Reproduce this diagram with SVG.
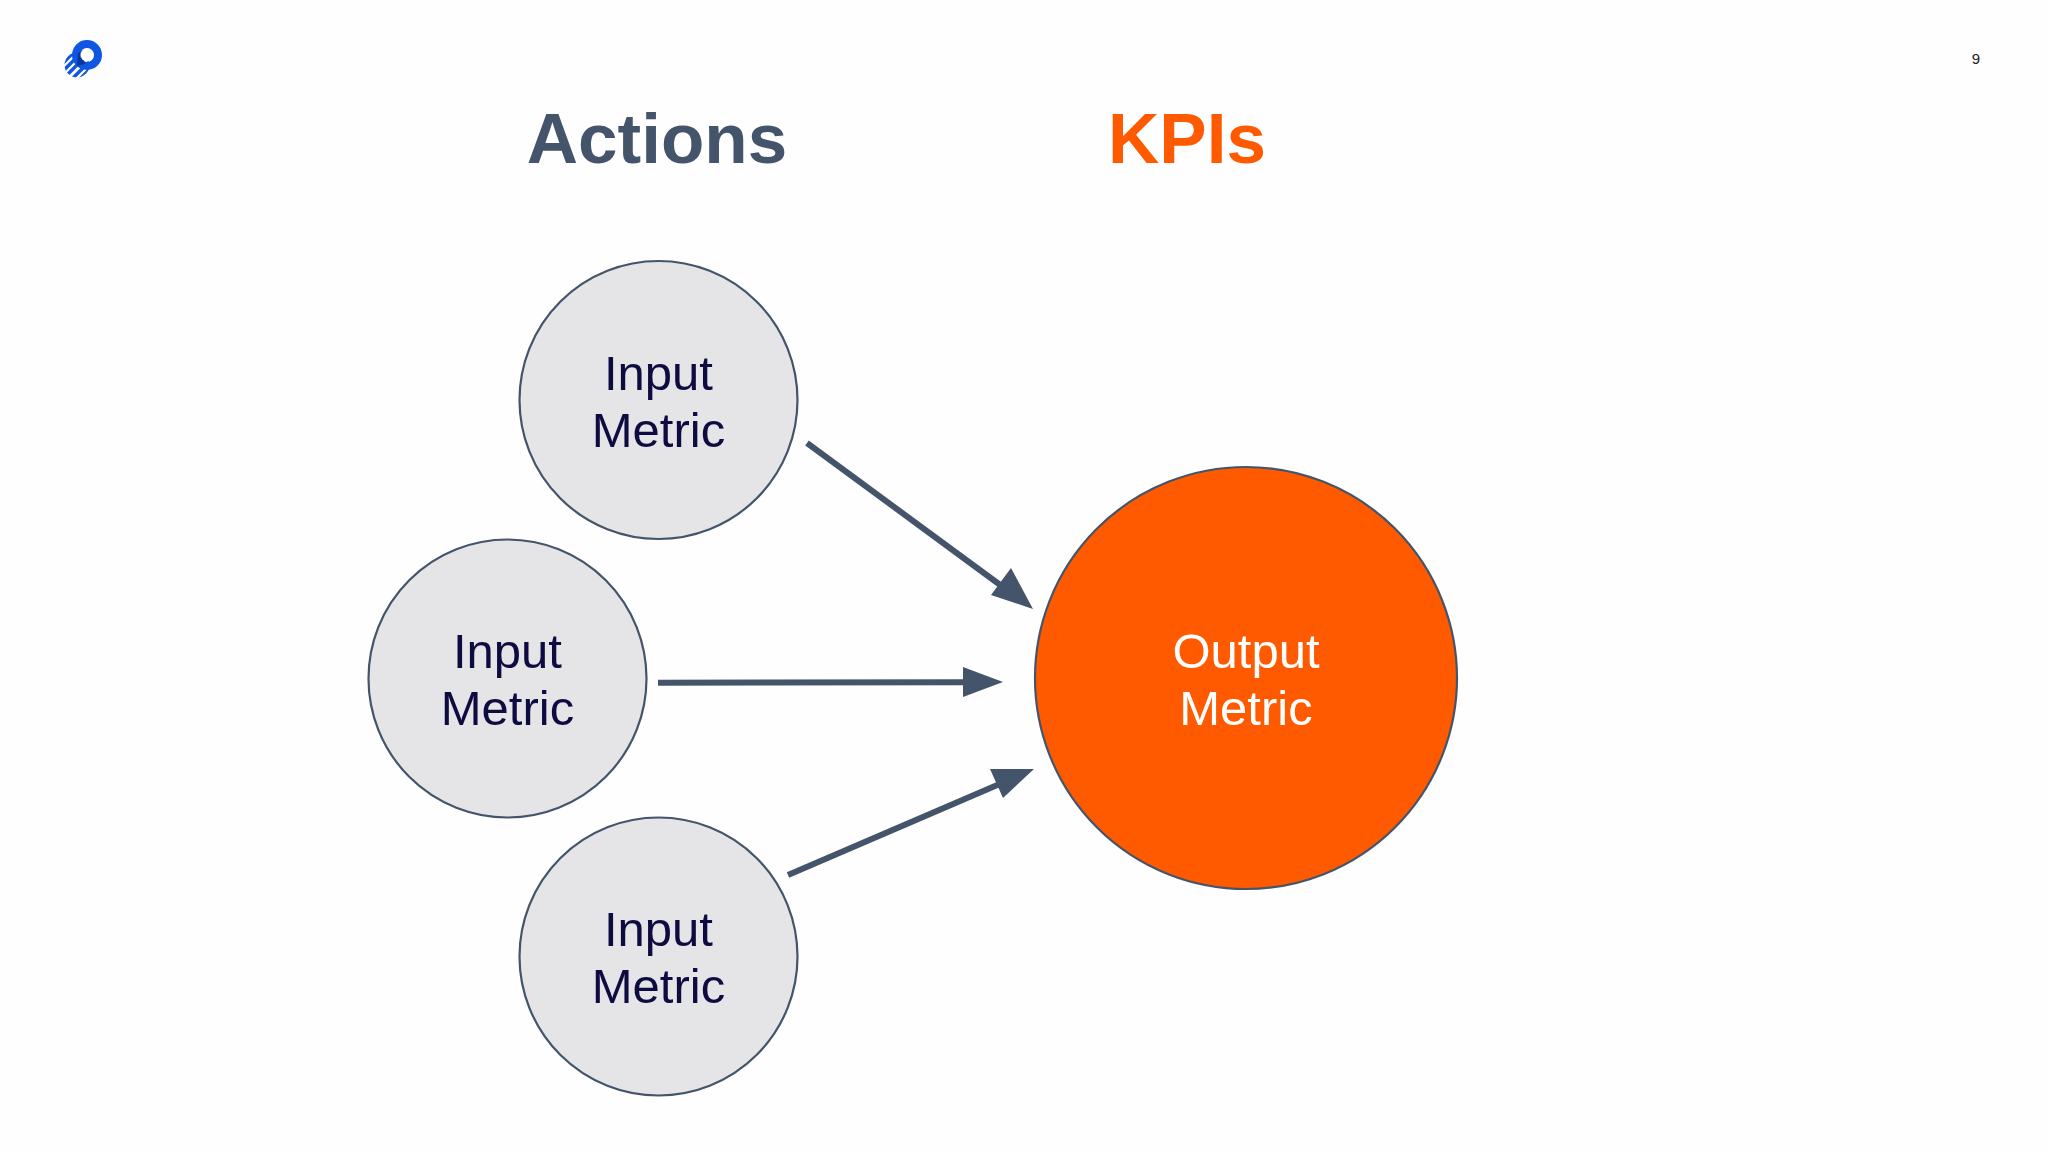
<svg xmlns="http://www.w3.org/2000/svg" width="2048" height="1152" viewBox="0 0 2048 1152">
<style>
.t{font-family:"Liberation Sans",Arial,sans-serif;text-anchor:middle}
.h{font-size:71px;font-weight:700}
.m{font-size:49px;fill:#0e0b40}
.in{fill:#e5e5e7;stroke:#44546a;stroke-width:2.2}
.a{stroke:#44546a;stroke-width:6;fill:none}
.ah{fill:#44546a}
</style>
<defs>
<clipPath id="sc"><circle cx="77" cy="65" r="12.5"/></clipPath>
</defs>
<rect width="2048" height="1152" fill="#fefefe"/>
<g id="logo">
<circle cx="87" cy="55" r="11" fill="none" stroke="#0f56e0" stroke-width="8"/>
<g clip-path="url(#sc)" stroke="#0f56e0" stroke-width="3.4">
<path d="M60 66L76 50M62 72L82 52M67 75L88 54M73 78L92 59M79 80L96 63"/>
</g>
<path d="M78 53L83 50L85 64L77 66Z" fill="#0a2a8c" opacity="0.75"/>
<circle cx="87" cy="55" r="6.5" fill="#fff"/>
</g>
<text id="page" class="t" x="1976" y="64" font-size="15" fill="#222">9</text>
<text id="actions" class="t h" x="657" y="163" fill="#44546a">Actions</text>
<text id="kpis" class="t h" x="1187" y="163" fill="#ff5a00">KPIs</text>
<g id="connectors">
<path class="a" d="M807 443L1005 588.500"/><path class="ah" d="M1033 609L991 595L1011 568Z"/>
<path class="a" d="M658 682.700L965 682.300"/><path class="ah" d="M1003 682L963 667V697Z"/>
<path class="a" d="M788 875L1002 783"/><path class="ah" d="M1034 769L1003 798L990 769Z"/>
</g>
<g id="input1"><circle class="in" cx="658.500" cy="400" r="139"/><text class="t m" x="658.500" y="390">Input</text><text class="t m" x="658.500" y="447">Metric</text></g>
<g id="input2"><circle class="in" cx="507.500" cy="678.500" r="139"/><text class="t m" x="507.500" y="668">Input</text><text class="t m" x="507.500" y="725">Metric</text></g>
<g id="input3"><circle class="in" cx="658.500" cy="956.500" r="139"/><text class="t m" x="658.500" y="946">Input</text><text class="t m" x="658.500" y="1003">Metric</text></g>
<g id="output"><circle cx="1246" cy="678" r="211" fill="#ff5a00" stroke="#44546a" stroke-width="2.2"/><text class="t m" style="fill:#fff" x="1246" y="668">Output</text><text class="t m" style="fill:#fff" x="1246" y="725">Metric</text></g>
</svg>
